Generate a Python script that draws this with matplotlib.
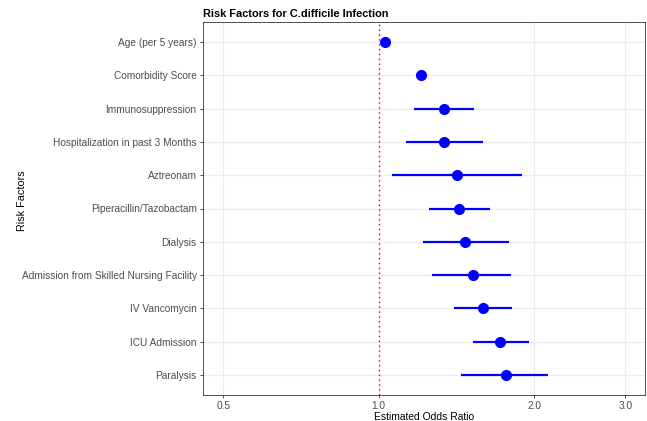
import numpy as np
import matplotlib
matplotlib.use("Agg")
import matplotlib.pyplot as plt
from matplotlib.ticker import FixedLocator, FixedFormatter, NullLocator

# risk factors, top to bottom
factors = [
    "Age (per 5 years)",
    "Comorbidity Score",
    "Immunosuppression",
    "Hospitalization in past 3 Months",
    "Aztreonam",
    "Piperacillin/Tazobactam",
    "Dialysis",
    "Admission from Skilled Nursing Facility",
    "IV Vancomycin",
    "ICU Admission",
    "Paralysis",
]
odds = [1.03, 1.21, 1.34, 1.34, 1.42, 1.43, 1.47, 1.52, 1.59, 1.72, 1.76]
ci_low = [1.01, 1.18, 1.17, 1.13, 1.06, 1.25, 1.22, 1.27, 1.40, 1.52, 1.44]
ci_high = [1.05, 1.24, 1.53, 1.59, 1.89, 1.64, 1.79, 1.80, 1.81, 1.95, 2.13]

xticks = [0.5, 1.0, 2.0, 3.0]
xticklabels = ["0.5", "1.0", "2.0", "3.0"]

plt.rcParams["font.family"] = ["Liberation Sans", "DejaVu Sans"]

fig = plt.figure(figsize=(6.47, 4.21), dpi=100)
ax = fig.add_axes([203 / 647, 1 - 395 / 421, (645 - 203) / 647, (395 - 22) / 421])

n = len(factors)
ypos = np.arange(n)[::-1]

ax.set_xscale("log")
ax.set_xlim(0.457, 3.277)
ax.set_ylim(-0.6, n - 1 + 0.6)

# grid
for t in xticks:
    ax.axvline(t, color="#EBEBEB", lw=0.8, zorder=0)
for y in ypos:
    ax.axhline(y, color="#EBEBEB", lw=0.8, zorder=0)

ax.axvline(1.0, color="red", lw=1.0, ls=(0, (1, 2.5)), zorder=1)

ax.hlines(ypos, ci_low, ci_high, color="blue", lw=1.6, zorder=2)
ax.plot(odds, ypos, "o", color="blue", markersize=7, zorder=3)

ax.xaxis.set_major_locator(FixedLocator(xticks))
ax.xaxis.set_major_formatter(FixedFormatter(xticklabels))
ax.xaxis.set_minor_locator(NullLocator())
ax.set_yticks(ypos)
ax.set_yticklabels(factors)

ax.tick_params(axis="both", length=2.5, width=0.6, color="#333333",
               labelcolor="#4D4D4D", labelsize=7.3, pad=2)
ax.tick_params(axis="x", pad=1.5)
for spine in ax.spines.values():
    spine.set_edgecolor("#333333")
    spine.set_linewidth(0.6)

ax.set_xlabel("Estimated Odds Ratio", fontsize=7.4, color="black", labelpad=1)
ax.set_ylabel("Risk Factors", fontsize=7.8, color="black")
ax.yaxis.set_label_coords((27 - 203) / 442, 0.52)
ax.set_title("Risk Factors for C.difficile Infection", fontsize=7.9,
             fontweight="bold", loc="left", pad=3.5)

fig.savefig("out.png", dpi=100)
